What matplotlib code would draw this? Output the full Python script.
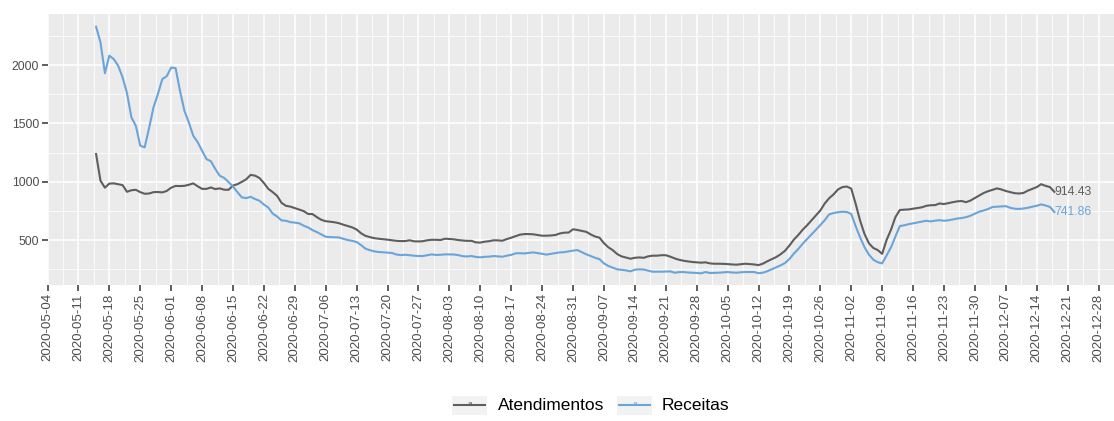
import matplotlib
matplotlib.use("Agg")
import matplotlib.pyplot as plt
from matplotlib.patches import Rectangle
from matplotlib.lines import Line2D
import pandas as pd

plt.rcParams['font.family'] = ['Liberation Sans', 'DejaVu Sans']

start_date = "2020-05-15"
series_names = ["Atendimentos", "Receitas"]

atendimentos = [
    1238, 1010, 950, 985, 987, 980, 972, 915, 928, 932,
    912, 898, 900, 912, 913, 910, 922, 950, 965, 964,
    966, 975, 987, 962, 940, 940, 952, 938, 944, 933,
    932, 968, 980, 1000, 1022, 1060, 1053, 1033, 990, 940,
    912, 880, 820, 795, 788, 775, 762, 750, 725, 724,
    698, 675, 663, 659, 654, 646, 633, 622, 610, 592,
    560, 538, 527, 518, 513, 509, 505, 500, 495, 493,
    493, 500, 491, 490, 492, 500, 504, 504, 502, 513,
    511, 508, 502, 498, 495, 495, 482, 480, 488, 492,
    500, 499, 496, 510, 522, 535, 548, 553, 553, 551,
    545, 539, 539, 541, 545, 558, 565, 566, 594, 588,
    580, 572, 550, 532, 522, 475, 440, 415, 382, 362,
    352, 342, 350, 353, 350, 362, 368, 368, 372, 372,
    360, 345, 333, 325, 319, 314, 311, 308, 311, 302,
    299, 299, 298, 296, 293, 291, 295, 299, 296, 293,
    287, 300, 320, 338, 356, 380, 410, 455, 505, 545,
    590, 628, 670, 712, 755, 815, 860, 893, 935, 955,
    960, 942, 812, 669, 554, 474, 434, 416, 384, 502,
    590, 698, 759, 762, 764, 770, 776, 782, 795, 800,
    801, 815, 810, 818, 826, 833, 836, 826, 840, 862,
    885, 905, 920, 932, 944, 935, 922, 912, 903, 900,
    905, 925, 940, 955, 980, 966, 955, 914.43,
]

receitas = [
    2328, 2194, 1930, 2080, 2051, 1994, 1895, 1760, 1552, 1480,
    1310, 1295, 1460, 1638, 1752, 1880, 1905, 1978, 1974, 1780,
    1609, 1509, 1395, 1340, 1266, 1195, 1176, 1110, 1052, 1034,
    998, 960, 912, 867, 861, 872, 853, 838, 806, 780,
    728, 703, 670, 667, 655, 651, 645, 625, 610, 587,
    570, 550, 530, 527, 526, 524, 512, 502, 495, 485,
    459, 428, 415, 405, 399, 397, 394, 391, 378, 373,
    376, 372, 368, 365, 365, 372, 379, 374, 376, 379,
    379, 378, 373, 364, 361, 365, 357, 354, 358, 360,
    365, 362, 359, 368, 375, 388, 389, 387, 392, 396,
    390, 384, 377, 384, 390, 396, 398, 405, 411, 416,
    398, 380, 365, 350, 338, 302, 280, 265, 251, 247,
    242, 234, 248, 251, 250, 240, 231, 231, 231, 232,
    234, 222, 227, 228, 224, 222, 220, 217, 228, 220,
    221, 222, 225, 228, 224, 222, 226, 228, 228, 228,
    218, 222, 235, 252, 270, 285, 305, 340, 385, 425,
    470, 510, 550, 590, 630, 672, 722, 733, 740, 744,
    742, 725, 620, 526, 441, 377, 334, 312, 302, 370,
    440, 530, 622, 628, 638, 645, 652, 660, 667, 661,
    668, 672, 667, 671, 678, 686, 690, 698, 710, 728,
    745, 755, 768, 785, 787, 790, 792, 778, 770, 768,
    772, 778, 787, 795, 807, 798, 785, 741.86,
]

y_ticks = [500, 1000, 1500, 2000]
x_tick_start = "2020-05-04"
x_tick_end = "2020-12-28"

colors = ["#5E5E5E", "#6AA5DA"]

dates = pd.date_range(start_date, periods=len(atendimentos), freq="D")

W, H = 1114, 421
fig = plt.figure(figsize=(W / 100, H / 100), dpi=100)
left_px, right_px, top_px, bottom_px = 47.5, 1114, 14, 285
ax = fig.add_axes([left_px / W, 1 - bottom_px / H,
                   (right_px - left_px) / W, (bottom_px - top_px) / H])

ax.set_facecolor("#EBEBEB")
for s in ax.spines.values():
    s.set_visible(False)

x0 = pd.Timestamp(x_tick_start)
px_per_day = 4.44
x1 = x0 + pd.Timedelta(days=(right_px - left_px) / px_per_day)
ax.set_xlim(x0, x1)
ax.set_ylim(117, 2437)

major = pd.date_range(x_tick_start, x_tick_end, freq="7D")
minor = major + pd.Timedelta(hours=84)
ax.set_xticks(major)
ax.set_xticks(minor, minor=True)
ax.set_xticklabels([d.strftime("%Y-%m-%d") for d in major], rotation=90,
                   fontsize=9.6, color="#4D4D4D")
ax.set_yticks(y_ticks)
ax.set_yticks([250, 750, 1250, 1750, 2250], minor=True)
ax.set_yticklabels([str(v) for v in y_ticks], fontsize=8.8, color="#4D4D4D")

ax.grid(which="major", color="white", linewidth=1.1)
ax.grid(which="minor", color="white", linewidth=0.55)
ax.set_axisbelow(True)
ax.tick_params(which="major", length=4, width=1.1, color="#333333", pad=2)
ax.tick_params(which="minor", length=0)

series = [atendimentos, receitas]
for name, vals, c in zip(series_names, series, colors):
    ax.plot(dates, vals, color=c, linewidth=1.5, solid_joinstyle="round")
    ax.text(dates[-1], vals[-1], f"{vals[-1]:.2f}", color=c, fontsize=8.8,
            ha="left", va="center")

# Legend (ggplot style, bottom centre)
legend_y = 405
keys = [(452, 498), (617, 662)]
for (kx, tx), name, c in zip(keys, series_names, colors):
    fig.patches.append(Rectangle((kx / W, 1 - (legend_y + 9.5) / H), 35 / W, 19 / H,
                                 transform=fig.transFigure, facecolor="#F2F2F2",
                                 edgecolor="none"))
    fig.lines.append(Line2D([(kx + 2) / W, (kx + 33) / W],
                            [1 - legend_y / H, 1 - legend_y / H],
                            transform=fig.transFigure, color=c, linewidth=1.5))
    fig.text((kx + 17.5) / W, 1 - legend_y / H, "a", color=c, fontsize=6,
             ha="center", va="center")
    fig.text(tx / W, 1 - legend_y / H, name, fontsize=12.5, color="black",
             ha="left", va="center")

fig.savefig("out.png", dpi=100)
